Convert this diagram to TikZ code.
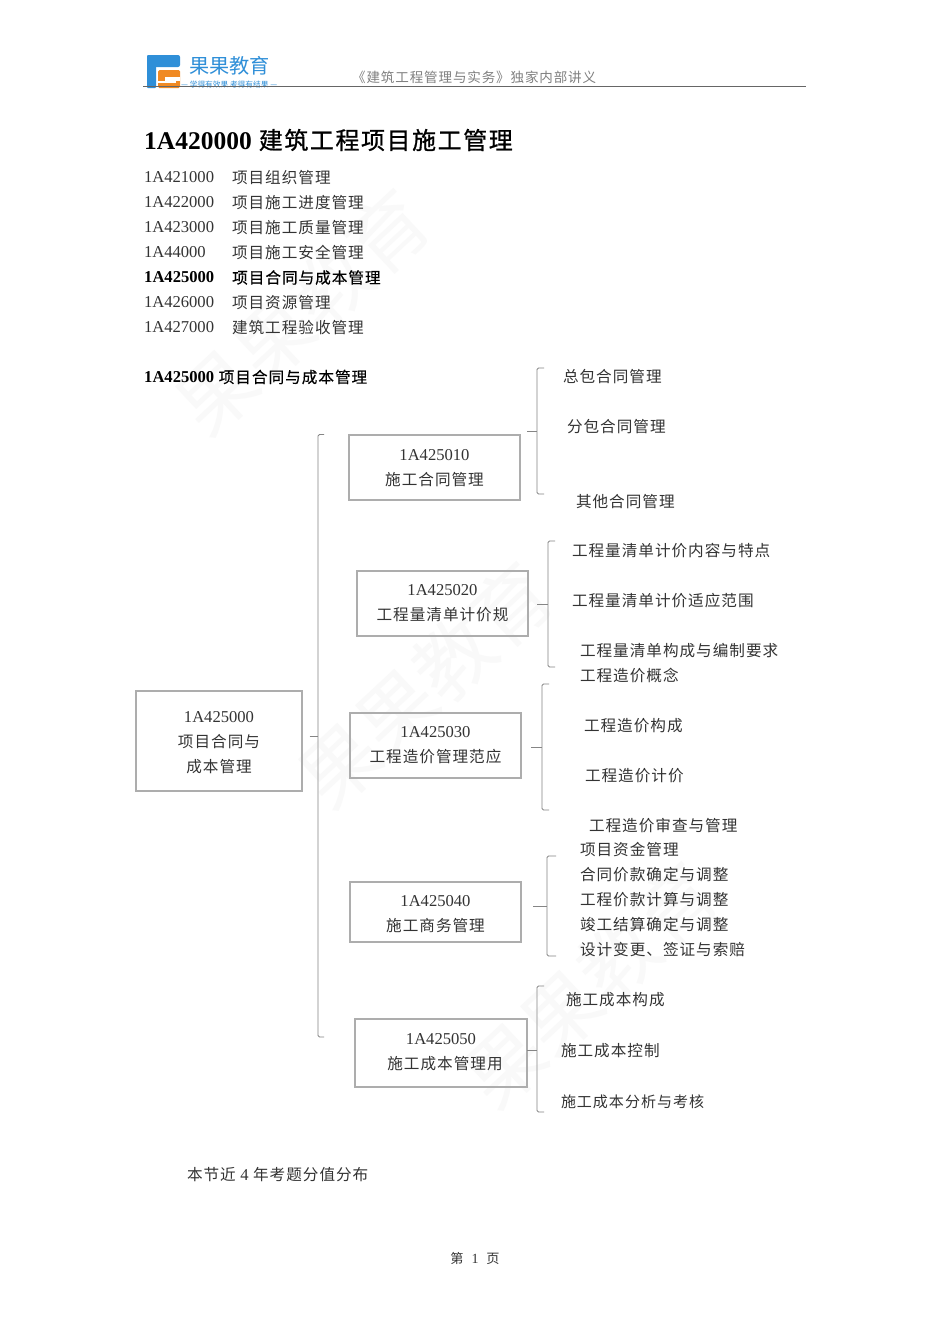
\documentclass[tikz,border=0pt]{standalone}
\usepackage{fontspec}
\setmainfont{Liberation Serif}
\newfontfamily\cjk[Scale=0.94,LetterSpace=6.4]{Noto Sans CJK SC}
\newfontfamily\cjkb[Scale=0.94,LetterSpace=6.4,FakeBold=0.45]{Noto Sans CJK SC}
\newfontfamily\cjkt[Scale=0.94,LetterSpace=6.6,FakeBold=0.8]{Noto Sans CJK SC}
\newfontfamily\cjkp{Noto Sans CJK SC}
\usetikzlibrary{calc}
\definecolor{ink}{gray}{0.2}
\definecolor{boxline}{gray}{0.68}
\definecolor{brk}{gray}{0.52}
\definecolor{wm}{gray}{0.975}
\definecolor{logoblue}{HTML}{2F8FD8}
\definecolor{logoorange}{HTML}{F08A24}
\tikzset{
  x=1pt,y=-1pt,
  item/.style={inner sep=0pt,outer sep=0pt,anchor=west,text=ink,font=\fontsize{16.6}{25}\selectfont\cjk},
  boldtxt/.style={inner sep=0pt,anchor=west,text=black,font=\fontsize{16.6}{25}\selectfont\cjkb},
  boxn/.style={draw=boxline,line width=1.3pt,minimum width=171pt,minimum height=65pt,inner sep=0pt,align=center,text=ink,font=\fontsize{16.6}{25}\selectfont\cjk},
  brline/.style={draw=brk,line width=.8pt,rounded corners=1.5pt},
  wmark/.style={text=wm,font=\fontsize{78}{78}\selectfont\cjkp,rotate=43,inner sep=0pt},
}
\newcommand{\lat}[1]{{\rmfamily #1}}
\newcommand{\blat}[1]{{\rmfamily\bfseries #1}}
\newcommand{\upstrut}[1]{\rule{0pt}{#1pt}}
\begin{document}
\begin{tikzpicture}
\useasboundingbox (0,0) rectangle (950,1344);
\fill[white] (0,0) rectangle (950,1344);
% watermark
\node[wmark] (w1) at (302,312) {果果教育};
\node[wmark] (w2) at (425,685) {果果教育};
\node[wmark] (w3) at (590,985) {果果教育};
% header
\fill[logoblue,rounded corners=2pt] (147,55) rectangle (180,67);
\fill[logoblue,rounded corners=1pt] (147,55) rectangle (156,88);
\fill[logoorange,rounded corners=1.5pt] (158,70) rectangle (180,88);
\fill[white] (165,76.5) rectangle (180,80.5);
\fill[white] (158,80.5) rectangle (176,82.5);
\fill[logoorange] (164,82.5) rectangle (176,88);
\node[inner sep=0pt,anchor=west,text=logoblue,font=\fontsize{20.2}{21}\selectfont\cjkp] (logo) at (189,66) {果果教育};
\node[inner sep=0pt,anchor=west,text=logoblue,font=\fontsize{7.7}{8}\selectfont\cjkp] (slogan) at (181,84.5) {— 学得有效果 考得有结果 —};
\draw[black!60,line width=1pt] (143,86.7) -- (806,86.7);
\node[inner sep=0pt,anchor=west,text=gray,font=\fontsize{14.4}{15}\selectfont\cjk] (hd) at (352,77) {《建筑工程管理与实务》独家内部讲义};
% title
\node[inner sep=0pt,anchor=west,text=black,font=\fontsize{25.5}{26}\selectfont\cjkt] (title) at (144,140) {\blat{1A420000} 建筑工程项目施工管理};
% list
\node[item] (n1) at (144,177.5) {\lat{1A421000}};\node[item] (t1) at (232,177.5) {项目组织管理};
\node[item] (n2) at (144,202.5) {\lat{1A422000}};\node[item] (t2) at (232,202.5) {项目施工进度管理};
\node[item] (n3) at (144,227.5) {\lat{1A423000}};\node[item] (t3) at (232,227.5) {项目施工质量管理};
\node[item] (n4) at (144,252.5) {\lat{1A44000}};\node[item] (t4) at (232,252.5) {项目施工安全管理};
\node[boldtxt] (n5) at (144,277.5) {\blat{1A425000}};\node[boldtxt] (t5) at (232,277.5) {项目合同与成本管理};
\node[item] (n6) at (144,302.5) {\lat{1A426000}};\node[item] (t6) at (232,302.5) {项目资源管理};
\node[item] (n7) at (144,327.5) {\lat{1A427000}};\node[item] (t7) at (232,327.5) {建筑工程验收管理};
\node[boldtxt] (sec) at (144,377) {\blat{1A425000} 项目合同与成本管理};
% boxes
\node[boxn,minimum width=166pt,minimum height=100pt] (root) at (219,741) {\upstrut{15}\lat{1A425000}\\项目合同与\\成本管理};
\node[boxn] (b1) at (434.5,467.5) {\upstrut{13}\lat{1A425010}\\施工合同管理};
\node[boxn] (b2) at (442.5,603.5) {\lat{1A425020}\\工程量清单计价规};
\node[boxn] (b3) at (435.5,745.5) {\lat{1A425030}\\工程造价管理范应};
\node[boxn,minimum height=60pt] (b4) at (435.5,912) {\upstrut{15}\lat{1A425040}\\施工商务管理};
\node[boxn,minimum width=172pt,minimum height=68pt] (b5) at (441,1053) {\lat{1A425050}\\\hspace*{8pt}施工成本管理用\rule[-4pt]{0pt}{1pt}};
% brackets
\coordinate (m0t) at (324,434.5);\coordinate (m0b) at (324,1037);\coordinate (m0) at (318,736);
\draw[brline] (m0t) -| (m0 |- m0b) -- (m0b);
\draw[brline,sharp corners] (root.east) ++(7,-5) -- (m0);
\coordinate (m1t) at (544,368);\coordinate (m1b) at (544,494);\coordinate (m1) at (537,431);
\draw[brline] (m1t) -| (m1 |- m1b) -- (m1b);
\draw[brline,sharp corners] ($(m1)+(-10,0)$) -- (m1);
\coordinate (m2t) at (555,541);\coordinate (m2b) at (555,667);\coordinate (m2) at (548,604);
\draw[brline] (m2t) -| (m2 |- m2b) -- (m2b);
\draw[brline,sharp corners] ($(m2)+(-11,0)$) -- (m2);
\coordinate (m3t) at (549,684);\coordinate (m3b) at (549,810);\coordinate (m3) at (542,747);
\draw[brline] (m3t) -| (m3 |- m3b) -- (m3b);
\draw[brline,sharp corners] ($(m3)+(-11,0)$) -- (m3);
\coordinate (m4t) at (556,856);\coordinate (m4b) at (556,956);\coordinate (m4) at (547,906);
\draw[brline] (m4t) -| (m4 |- m4b) -- (m4b);
\draw[brline,sharp corners] ($(m4)+(-14,0)$) -- (m4);
\coordinate (m5t) at (544,986);\coordinate (m5b) at (544,1112);\coordinate (m5) at (537,1050);
\draw[brline] (m5t) -| (m5 |- m5b) -- (m5b);
\draw[brline,sharp corners] ($(m5)+(-10,0)$) -- (m5);
% leaves
\node[item] (l11) at (563,376.5) {总包合同管理};
\node[item] (l12) at (567,426.5) {分包合同管理};
\node[item] (l13) at (576,501.5) {其他合同管理};
\node[item] (l21) at (572,551) {工程量清单计价内容与特点};
\node[item] (l22) at (572,601) {工程量清单计价适应范围};
\node[item] (l23) at (580,651) {工程量清单构成与编制要求};
\node[item] (l31) at (580,675.5) {工程造价概念};
\node[item] (l32) at (584,725.5) {工程造价构成};
\node[item] (l33) at (585,775.5) {工程造价计价};
\node[item] (l34) at (589,825.5) {工程造价审查与管理};
\node[item] (l41) at (580,850) {项目资金管理};
\node[item] (l42) at (580,874.5) {合同价款确定与调整};
\node[item] (l43) at (580,899.5) {工程价款计算与调整};
\node[item] (l44) at (580,924.5) {竣工结算确定与调整};
\node[item] (l45) at (580,949.5) {设计变更、签证与索赔};
\node[item] (l51) at (566,999.5) {施工成本构成};
\node[item] (l52) at (561,1051) {施工成本控制};
\node[item,font=\fontsize{16}{25}\selectfont\cjk] (l53) at (561,1101.5) {施工成本分析与考核};
% footer texts
\node[item] (note) at (187,1174.5) {本节近 \lat{4} 年考题分值分布};
\node[inner sep=0pt,text=ink,font=\fontsize{14}{15}\selectfont\cjk] (pg) at (475,1258) {第\hspace{.6em}\lat{1}\hspace{.6em}页};
\end{tikzpicture}
\end{document}
